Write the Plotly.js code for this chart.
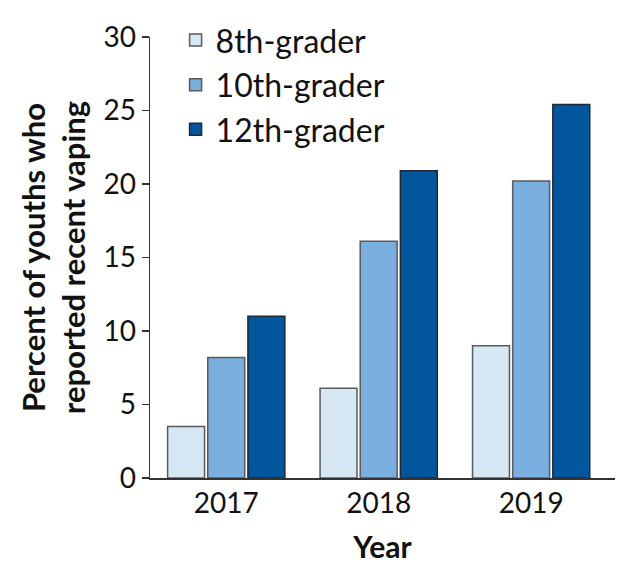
<!DOCTYPE html>
<html>
<head>
<meta charset="utf-8">
<script src="https://cdn.plot.ly/plotly-3.0.1.min.js"></script>
<style>html,body{margin:0;padding:0;background:#fff}#chart{width:632px;height:579px}</style>
</head>
<body>
<div id="chart"></div>
<script>
const years = ['2017', '2018', '2019'];
const grade8 = [3.5, 6.1, 9.0];
const grade10 = [8.2, 16.1, 20.2];
const grade12 = [11.0, 20.9, 25.4];
const seriesNames = ['8th-grader', '10th-grader', '12th-grader'];
const yTicks = [0, 5, 10, 15, 20, 25, 30];

const fills = ['#d6e8f3', '#7aaedf', '#02569b'];
const lines = ['#5a5a5a', '#5a5a5a', '#1c2a3a'];
const series = [grade8, grade10, grade12];

const traces = series.map((vals, i) => ({
  type: 'bar',
  x: years,
  y: vals,
  name: seriesNames[i],
  marker: {color: fills[i], line: {color: lines[i], width: 1.5}},
  hoverinfo: 'skip'
}));

const layout = {
  width: 632, height: 579,
  margin: {l: 150, r: 17, t: 37, b: 101},
  paper_bgcolor: '#fff', plot_bgcolor: '#fff',
  font: {family: 'Lato, "Open Sans", sans-serif', color: '#111'},
  barmode: 'group',
  bargap: 0.21,
  bargroupgap: 0.08,
  showlegend: true,
  legend: {
    x: 0.055, y: 1.055, xanchor: 'left', yanchor: 'top',
    font: {size: 32, color: '#111'},
    bgcolor: 'rgba(0,0,0,0)', itemwidth: 30, tracegroupgap: 0
  },
  xaxis: {
    type: 'category',
    range: [-0.5, 2.55],
    showline: true, linecolor: '#333', linewidth: 1.5,
    ticks: '', showgrid: false, zeroline: false,
    tickfont: {size: 28, color: '#111'},
    title: {text: '<b>Year</b>', font: {size: 30, color: '#111'}, standoff: 19},
    fixedrange: true
  },
  yaxis: {
    range: [0, 30],
    tickvals: yTicks,
    ticktext: yTicks.map(String),
    showline: true, linecolor: '#333', linewidth: 1.5,
    ticks: 'outside', ticklen: 7, tickwidth: 1.5, tickcolor: '#333',
    showgrid: false, zeroline: false,
    tickfont: {size: 28, color: '#111'},
    title: {text: '<b>Percent of youths who<br>reported recent vaping</b>', font: {size: 31, color: '#111'}, standoff: 8},
    fixedrange: true
  }
};

Plotly.newPlot('chart', traces, layout, {displayModeBar: false, staticPlot: true});
</script>
</body>
</html>
